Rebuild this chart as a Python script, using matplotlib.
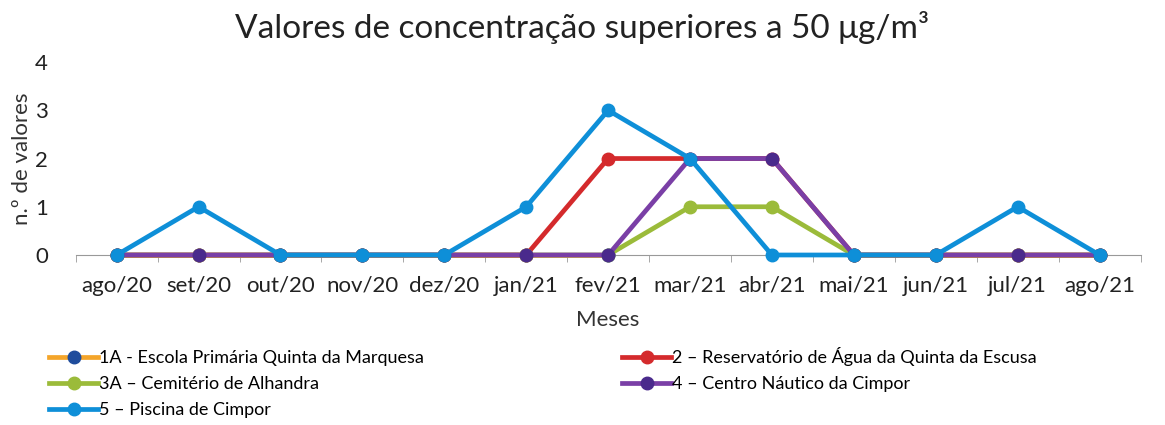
import matplotlib
matplotlib.use("Agg")
import matplotlib.pyplot as plt
import numpy as np

plt.rcParams['font.family'] = ['Lato', 'DejaVu Sans']

meses = ["ago/20", "set/20", "out/20", "nov/20", "dez/20", "jan/21", "fev/21",
         "mar/21", "abr/21", "mai/21", "jun/21", "jul/21", "ago/21"]

nan = np.nan
s1a = [0, 0, 0, 0, 0, 0, 0, nan, nan, 0, 0, 0, 0]
s2 = [0, 0, 0, 0, 0, 0, 2, 2, 2, 0, 0, 0, 0]
s3a = [0, 0, 0, 0, 0, 0, 0, 1, 1, 0, 0, 0, 0]
s4 = [0, 0, 0, 0, 0, 0, 0, 2, 2, 0, 0, 0, 0]
s5 = [0, 1, 0, 0, 0, 1, 3, 2, 0, 0, 0, 1, 0]

labels = ["1A - Escola Primária Quinta da Marquesa",
          "2 – Reservatório de Água da Quinta da Escusa",
          "3A – Cemitério de Alhandra",
          "4 – Centro Náutico da Cimpor",
          "5 – Piscina de Cimpor"]

series = [s1a, s2, s3a, s4, s5]
line_colors = ["#f4a52a", "#d42a2c", "#9bbb3a", "#7a3fa6", "#0e8fd8"]
marker_colors = ["#1f4c9c", "#d42a2c", "#9bbb3a", "#4a2a8c", "#0e8fd8"]

fig = plt.figure(figsize=(11.65, 4.25), dpi=100)
ax = fig.add_axes([0.065, 0.4, 0.914, 0.454])

x = np.arange(len(meses))
handles = []
for vals, lc, mc, lab in zip(series, line_colors, marker_colors, labels):
    h, = ax.plot(x, vals, color=lc, lw=3.4, marker='o', ms=9,
                 markerfacecolor=mc, markeredgecolor=mc, label=lab,
                 solid_joinstyle='round', clip_on=False)
    handles.append(h)

ax.set_xlim(-0.5, len(meses) - 0.5)
ax.set_ylim(0, 4)
ax.set_yticks([0, 1, 2, 3, 4])
ax.set_xticks(x)
ax.set_xticklabels(meses)
ax.set_xticks(np.arange(-0.5, len(meses), 1), minor=True)
ax.tick_params(axis='x', which='major', length=0, pad=15, labelsize=16, colors='#222222')
ax.tick_params(axis='x', which='minor', length=5, color='#999999')
ax.tick_params(axis='y', length=0, pad=20, labelsize=16, colors='#222222')
for side in ['top', 'right', 'left']:
    ax.spines[side].set_visible(False)
ax.spines['bottom'].set_color('#999999')
ax.spines['bottom'].set_zorder(0)

ax.set_xlabel("Meses", fontsize=16, color='#333333', labelpad=10)
ax.set_ylabel("n.º de valores", fontsize=16, color='#333333', labelpad=2)
fig.suptitle("Valores de concentração superiores a 50 μg/m³", fontsize=24,
             color='#222222', y=0.975)

order = [0, 2, 4, 1, 3]
fig.legend([handles[i] for i in order], [labels[i] for i in order],
           loc='upper left', bbox_to_anchor=(0.036, 0.2), ncol=2, frameon=False,
           fontsize=13, handlelength=2.7, handletextpad=0.05,
           columnspacing=11.0, labelspacing=0.55, borderaxespad=0)

fig.savefig("out.png", dpi=100)
